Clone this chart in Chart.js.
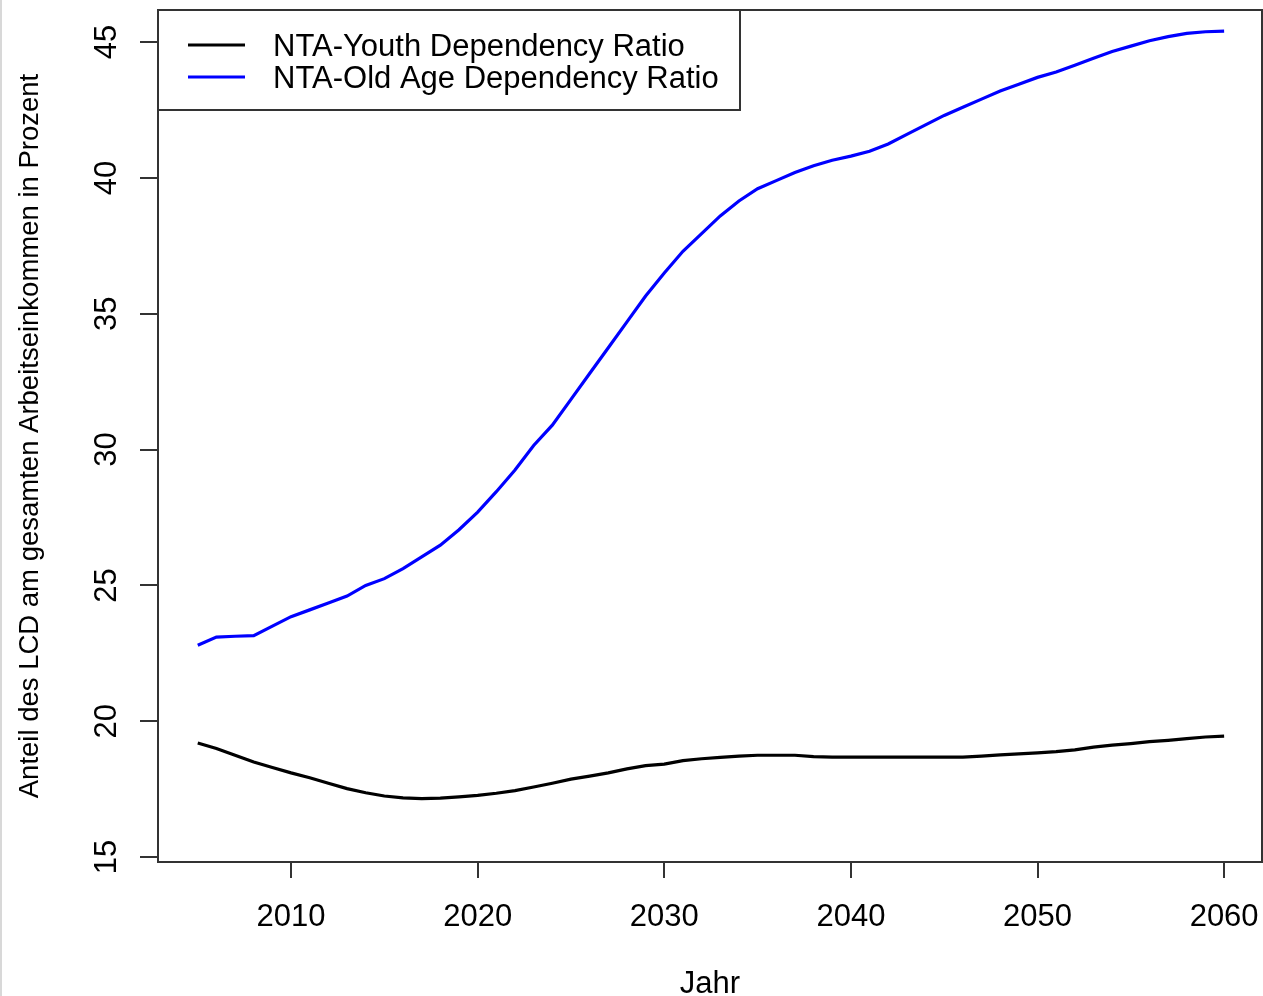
<!DOCTYPE html>
<html>
<head>
<meta charset="utf-8">
<script src="https://cdn.jsdelivr.net/npm/chart.js@4.4.1/dist/chart.umd.min.js"></script>
<style>
    html, body { margin: 0; padding: 0; background: #fff; }
    #wrap { width: 1263px; height: 996px; position: relative; }
</style>
</head>
<body>
<div id="wrap"><canvas id="ratioChart"></canvas></div>
<script>
// Data
const years = [2005, 2006, 2007, 2008, 2009, 2010, 2011, 2012, 2013, 2014,
    2015, 2016, 2017, 2018, 2019, 2020, 2021, 2022, 2023, 2024,
    2025, 2026, 2027, 2028, 2029, 2030, 2031, 2032, 2033, 2034,
    2035, 2036, 2037, 2038, 2039, 2040, 2041, 2042, 2043, 2044,
    2045, 2046, 2047, 2048, 2049, 2050, 2051, 2052, 2053, 2054,
    2055, 2056, 2057, 2058, 2059, 2060];
const youthRatio = [19.20, 19.00, 18.75, 18.50, 18.30, 18.10, 17.92, 17.72, 17.52, 17.37,
    17.25, 17.18, 17.15, 17.17, 17.22, 17.27, 17.35, 17.45, 17.58, 17.72,
    17.87, 17.98, 18.10, 18.25, 18.37, 18.42, 18.55, 18.62, 18.67, 18.72,
    18.75, 18.75, 18.75, 18.70, 18.68, 18.68, 18.68, 18.68, 18.68, 18.68,
    18.68, 18.68, 18.72, 18.76, 18.80, 18.84, 18.88, 18.95, 19.05, 19.12,
    19.18, 19.25, 19.30, 19.36, 19.42, 19.45];
const oldAgeRatio = [22.80, 23.10, 23.13, 23.15, 23.50, 23.85, 24.10, 24.35, 24.61, 25.00,
    25.25, 25.62, 26.05, 26.48, 27.05, 27.70, 28.45, 29.25, 30.15, 30.90,
    31.85, 32.80, 33.75, 34.70, 35.65, 36.50, 37.30, 37.95, 38.60, 39.15,
    39.60, 39.90, 40.20, 40.45, 40.65, 40.80, 40.98, 41.25, 41.60, 41.95,
    42.30, 42.60, 42.90, 43.20, 43.45, 43.70, 43.90, 44.15, 44.40, 44.65,
    44.85, 45.05, 45.20, 45.32, 45.38, 45.40];
const seriesLabels = ['NTA-Youth Dependency Ratio', 'NTA-Old Age Dependency Ratio'];
const xTicks = [2010, 2020, 2030, 2040, 2050, 2060];
const yTicks = [15, 20, 25, 30, 35, 40, 45];

const fontFamily = '"Liberation Sans", Arial, sans-serif';
const axisColor = '#333333';

// R-style box around the plot region + light outer frame
const boxPlugin = {
    id: 'plotBox',
    beforeDraw: (chart) => {
        const ctx = chart.ctx;
        ctx.save();
        ctx.fillStyle = '#d8d8d8';
        ctx.fillRect(0, 0, 2, chart.height);
        ctx.restore();
    },
    afterDraw: (chart) => {
        const ctx = chart.ctx;
        const a = chart.chartArea;
        ctx.save();
        ctx.strokeStyle = axisColor;
        ctx.lineWidth = 2;
        ctx.strokeRect(a.left, a.top, a.right - a.left, a.bottom - a.top);
        ctx.restore();
    }
};

// rotated y tick labels, like R's default las=0
const yLabelPlugin = {
    id: 'yTickLabels',
    afterDraw: (chart) => {
        const ctx = chart.ctx;
        const yAxis = chart.scales.y;
        ctx.save();
        ctx.font = '31px ' + fontFamily;
        ctx.fillStyle = '#000';
        ctx.textAlign = 'center';
        ctx.textBaseline = 'middle';
        yAxis.ticks.forEach(t => {
            const py = yAxis.getPixelForValue(t.value);
            ctx.save();
            ctx.translate(107, py);
            ctx.rotate(-Math.PI / 2);
            ctx.fillText(String(t.value), 0, 0);
            ctx.restore();
        });
        ctx.restore();
    }
};

// legend box in the top-left corner of the plot
const legendPlugin = {
    id: 'boxLegend',
    afterDraw: (chart) => {
        const ctx = chart.ctx;
        const a = chart.chartArea;
        const x0 = a.left, y0 = a.top;
        ctx.save();
        ctx.fillStyle = '#fff';
        ctx.fillRect(x0, y0, 582, 100);
        ctx.strokeStyle = axisColor;
        ctx.lineWidth = 2;
        ctx.strokeRect(x0, y0, 582, 100);
        ctx.font = '31px ' + fontFamily;
        ctx.textBaseline = 'middle';
        ctx.textAlign = 'left';
        chart.data.datasets.forEach((ds, i) => {
            const ly = y0 + 35 + i * 32;
            ctx.strokeStyle = ds.borderColor;
            ctx.lineWidth = 3;
            ctx.beginPath();
            ctx.moveTo(x0 + 30, ly);
            ctx.lineTo(x0 + 87, ly);
            ctx.stroke();
            ctx.fillStyle = '#000';
            ctx.fillText(ds.label, x0 + 115, ly + 2);
        });
        ctx.restore();
    }
};

const ctx = document.getElementById('ratioChart');
new Chart(ctx.getContext('2d'), {
    type: 'line',
    data: {
        datasets: [{
            label: seriesLabels[0],
            data: years.map((yr, i) => ({ x: yr, y: youthRatio[i] })),
            borderColor: '#000000',
            borderWidth: 3.2,
            pointRadius: 0,
            tension: 0,
            fill: false
        }, {
            label: seriesLabels[1],
            data: years.map((yr, i) => ({ x: yr, y: oldAgeRatio[i] })),
            borderColor: '#0000ff',
            borderWidth: 3.2,
            pointRadius: 0,
            tension: 0,
            fill: false
        }]
    },
    options: {
        responsive: true,
        maintainAspectRatio: false,
        animation: false,
        layout: { padding: { top: 10, right: 1, left: 0, bottom: 0 } },
        plugins: {
            legend: { display: false },
            title: { display: false },
            tooltip: { enabled: false }
        },
        scales: {
            x: {
                type: 'linear',
                min: 2002.87,
                max: 2062.03,
                afterBuildTicks: (axis) => { axis.ticks = xTicks.map(v => ({ value: v })); },
                afterFit: (axis) => {
                    axis.height = 134;
                    axis.paddingRight = 0;
                    axis.paddingLeft = 0;
                },
                border: { display: false },
                grid: {
                    drawOnChartArea: false,
                    drawTicks: true,
                    tickLength: 16,
                    color: axisColor,
                    lineWidth: 2
                },
                ticks: {
                    color: '#000',
                    font: { family: fontFamily, size: 31 },
                    padding: 21,
                    maxRotation: 0,
                    callback: (v) => String(v)
                },
                title: {
                    display: true,
                    text: 'Jahr',
                    color: '#000',
                    font: { family: fontFamily, size: 31, lineHeight: 0.73 },
                    padding: { top: 0, bottom: 0 }
                }
            },
            y: {
                type: 'linear',
                min: 14.82,
                max: 46.18,
                afterBuildTicks: (axis) => { axis.ticks = yTicks.map(v => ({ value: v })); },
                afterFit: (axis) => { axis.width = 158; },
                border: { display: false },
                grid: {
                    drawOnChartArea: false,
                    drawTicks: true,
                    tickLength: 18,
                    color: axisColor,
                    lineWidth: 2
                },
                ticks: { display: false },
                title: {
                    display: true,
                    text: 'Anteil des LCD am gesamten Arbeitseinkommen in Prozent',
                    color: '#000',
                    font: { family: fontFamily, size: 27.5, lineHeight: 1.2 },
                    padding: { top: 14, bottom: 0 }
                }
            }
        }
    },
    plugins: [boxPlugin, yLabelPlugin, legendPlugin]
});
</script>
</body>
</html>
